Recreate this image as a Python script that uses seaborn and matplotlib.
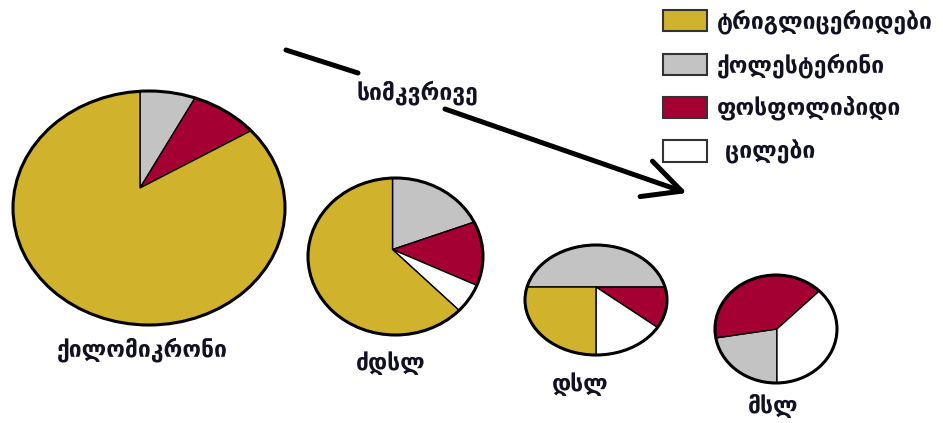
import matplotlib
matplotlib.use("Agg")
import matplotlib.pyplot as plt
from matplotlib.patches import Patch, Circle
import seaborn as sns

# legend / components
components = ["ტრიგლიცერიდები", "ქოლესტერინი", "ფოსფოლიპიდი", "ცილები"]
component_colors = ["#D0B22C", "#C3C3C3", "#A50034", "#FFFFFF"]

# particles and composition (%), slices listed clockwise
particles = ["ქილომიკრონი", "ძდსლ", "დსლ", "მსლ"]
chylo_parts = ["ქოლესტერინი", "ფოსფოლიპიდი", "ტრიგლიცერიდები"]
chylo_vals = [7.7, 8.7, 83.6]
vldl_parts = ["ქოლესტერინი", "ფოსფოლიპიდი", "ცილები", "ტრიგლიცერიდები"]
vldl_vals = [19.3, 12.75, 5.6, 62.35]
ldl_parts = ["ქოლესტერინი", "ფოსფოლიპიდი", "ცილები", "ტრიგლიცერიდები"]
ldl_vals = [50.0, 11.2, 13.8, 25.0]
hdl_parts = ["ქოლესტერინი", "ფოსფოლიპიდი", "ცილები"]
hdl_vals = [22.4, 40.0, 37.6]
density_label = "სიმკვრივე"

sns.set_style("white")
plt.rcParams["font.family"] = ["DejaVu Sans"]

W, H = 943, 423
FS = 16.5
fig = plt.figure(figsize=(W / 100, H / 100), dpi=100)
fig.patch.set_facecolor("white")

# overlay axes in pixel coordinates
ax = fig.add_axes([0, 0, 1, 1])
ax.set_xlim(0, W)
ax.set_ylim(H, 0)
ax.axis("off")

palette = dict(zip(components, component_colors))


def draw_pie(box, offset, start, parts, vals, label, label_xy):
    x0, y0, x1, y1 = box
    pax = fig.add_axes([x0 / W, 1 - y1 / H, (x1 - x0) / W, (y1 - y0) / H])
    wedges, _ = pax.pie(vals, colors=[palette[p] for p in parts], startangle=start,
                        counterclock=False, center=offset, radius=3,
                        wedgeprops=dict(edgecolor="black", linewidth=1))
    pax.set_aspect("auto")
    pax.set_xlim(-1, 1)
    pax.set_ylim(-1, 1)
    pax.axis("off")
    rim = Circle((0, 0), 1, facecolor="none", edgecolor="black", linewidth=2.2,
                 clip_on=False, zorder=5)
    pax.add_patch(rim)
    for w in wedges:
        w.set_clip_on(True)
        w.set_clip_path(rim)
    ax.text(label_xy[0], label_xy[1], label, ha="center", va="center",
            fontsize=FS, fontweight="bold", color="#111122")
    return pax


draw_pie((13, 91, 285, 325), (-0.066, 0.171), 90, chylo_parts, chylo_vals,
         particles[0], (142, 350))
draw_pie((308, 178, 483, 335), (-0.034, 0.089), 90, vldl_parts, vldl_vals,
         particles[1], (391, 363))
draw_pie((525, 245, 667, 355), (0.0, 0.236), 180, ldl_parts, ldl_vals,
         particles[2], (580, 384))
draw_pie((715, 275, 837, 383), (0.016, 0.0), -90, hdl_parts, hdl_vals,
         particles[3], (773, 405))

# small tick on the last pie
ax.plot([827, 833], [330, 330], color="black", lw=0.8)

# density arrow
ax.plot([286, 358], [50, 73], color="black", lw=3.6, solid_capstyle="round")
ax.annotate("", xy=(687, 193), xytext=(445, 109),
            arrowprops=dict(arrowstyle="->,head_length=0.9,head_width=0.45",
                            lw=3.6, color="black", mutation_scale=30,
                            shrinkA=0, shrinkB=0))
ax.text(417, 93, density_label, ha="center", va="center", fontsize=FS,
        fontweight="bold", color="#111122")

handles = [Patch(facecolor=c, edgecolor="#333333", linewidth=1.5) for c in component_colors]
labels = components[:3] + [" " + components[3]]
leg = ax.legend(handles, labels, loc="upper left", bbox_to_anchor=(663, 9),
                bbox_transform=ax.transData, frameon=False, borderpad=0,
                borderaxespad=0, handlelength=44 / (FS * 100 / 72),
                handleheight=24 / (FS * 100 / 72), handletextpad=0.45,
                labelspacing=0.83, prop=dict(size=FS, weight="bold"))
for t in leg.get_texts():
    t.set_color("#111122")

fig.savefig("out.png", dpi=100)
